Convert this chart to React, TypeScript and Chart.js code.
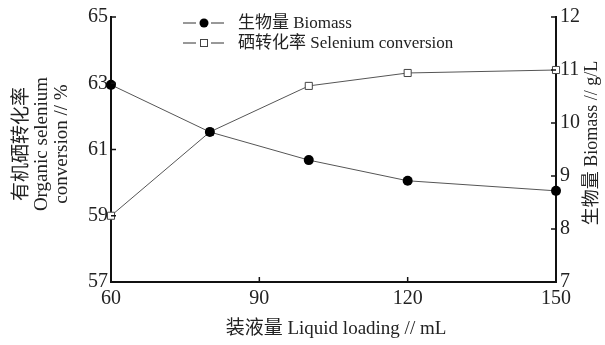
import React, { useEffect, useRef } from "react";
import { Chart, registerables } from "chart.js";

Chart.register(...registerables);

const loading = [60, 80, 100, 120, 150];
const biomass = [10.72, 9.83, 9.3, 8.91, 8.72];
const selenium = [59.0, 61.53, 62.92, 63.31, 63.4];

const xTicks = [60, 90, 120, 150];
const leftTicks = [57, 59, 61, 63, 65];
const rightTicks = [7, 8, 9, 10, 11, 12];

const biomassLabel = "生物量 Biomass";
const seleniumLabel = "硒转化率 Selenium conversion";
const xTitle = "装液量 Liquid loading // mL";
const leftTitle = ["有机硒转化率", "Organic selenium", "conversion // %"];
const rightTitle = "生物量 Biomass // g/L";

const FONT = "'Liberation Serif', 'Noto Sans CJK SC', serif";
const INK = "#111";
const LINE = "#555";

const decorPlugin = {
  id: "decor",
  afterDraw(chart: any) {
    const ctx = chart.ctx as CanvasRenderingContext2D;
    const x = chart.scales.x;
    const yl = chart.scales.y;
    const yr = chart.scales.y1;
    ctx.save();
    ctx.strokeStyle = INK;
    ctx.lineWidth = 1.5;
    // inward ticks
    yl.ticks.forEach((t: any) => {
      const p = yl.getPixelForValue(t.value);
      ctx.beginPath();
      ctx.moveTo(yl.right, p);
      ctx.lineTo(yl.right + 5, p);
      ctx.stroke();
    });
    yr.ticks.forEach((t: any) => {
      const p = yr.getPixelForValue(t.value);
      ctx.beginPath();
      ctx.moveTo(yr.left, p);
      ctx.lineTo(yr.left - 5, p);
      ctx.stroke();
    });
    x.ticks.forEach((t: any) => {
      const p = x.getPixelForValue(t.value);
      ctx.beginPath();
      ctx.moveTo(p, x.top);
      ctx.lineTo(p, x.top - 5);
      ctx.stroke();
    });

    // axis titles
    ctx.fillStyle = "#222";
    ctx.textAlign = "center";
    ctx.textBaseline = "middle";
    ctx.font = `19px ${FONT}`;
    ctx.fillText(xTitle, 336, 329);

    const cx = [22, 42, 62];
    leftTitle.forEach((line, i) => {
      ctx.save();
      ctx.translate(cx[i], 144);
      ctx.rotate(-Math.PI / 2);
      ctx.fillText(line, 0, 0);
      ctx.restore();
    });
    ctx.font = `18px ${FONT}`;
    ctx.save();
    ctx.translate(592, 143);
    ctx.rotate(-Math.PI / 2);
    ctx.fillText(rightTitle, 0, 0);
    ctx.restore();

    // legend
    const items = [
      { label: biomassLabel, y: 23, filled: true },
      { label: seleniumLabel, y: 43, filled: false },
    ];
    ctx.font = `17px ${FONT}`;
    ctx.textAlign = "left";
    items.forEach((it) => {
      ctx.strokeStyle = "#333";
      ctx.lineWidth = 1;
      ctx.beginPath();
      ctx.moveTo(183, it.y);
      ctx.lineTo(196, it.y);
      ctx.moveTo(211, it.y);
      ctx.lineTo(224, it.y);
      ctx.stroke();
      if (it.filled) {
        ctx.fillStyle = "#000";
        ctx.beginPath();
        ctx.arc(204, it.y, 4.5, 0, Math.PI * 2);
        ctx.fill();
      } else {
        ctx.fillStyle = "#fff";
        ctx.strokeStyle = "#444";
        ctx.fillRect(200.5, it.y - 3.5, 7, 7);
        ctx.strokeRect(200.5, it.y - 3.5, 7, 7);
      }
      ctx.fillStyle = "#222";
      ctx.fillText(it.label, 238, it.y + 1);
    });
    ctx.restore();
  },
};

export default function App() {
  const ref = useRef<HTMLCanvasElement>(null);
  useEffect(() => {
    document.body.style.margin = "0";
    const chart = new Chart(ref.current!, {
      type: "line",
      data: {
        datasets: [
          {
            label: biomassLabel,
            data: loading.map((v, i) => ({ x: v, y: biomass[i] })),
            yAxisID: "y1",
            borderColor: LINE,
            borderWidth: 1,
            pointStyle: "circle",
            pointRadius: 5,
            pointBackgroundColor: "#000",
            pointBorderColor: "#000",
            pointBorderWidth: 0,
            clip: false as any,
          },
          {
            label: seleniumLabel,
            data: loading.map((v, i) => ({ x: v, y: selenium[i] })),
            yAxisID: "y",
            borderColor: LINE,
            borderWidth: 1,
            pointStyle: "rect",
            pointRadius: 5,
            pointBackgroundColor: "#fff",
            pointBorderColor: "#444",
            pointBorderWidth: 1,
            clip: false as any,
          },
        ],
      },
      options: {
        animation: false,
        responsive: false,
        layout: { padding: { top: 17, left: 0, right: 0, bottom: 0 } },
        plugins: { legend: { display: false }, tooltip: { enabled: false } },
        scales: {
          x: {
            type: "linear",
            min: 60,
            max: 150,
            afterBuildTicks: (s: any) => {
              s.ticks = xTicks.map((v) => ({ value: v }));
            },
            afterFit: (s: any) => {
              s.height = 63;
            },
            grid: { display: false, drawTicks: false },
            border: { display: true, color: INK, width: 2 },
            ticks: { padding: 5, color: "#222", font: { family: FONT, size: 20 } },
          },
          y: {
            type: "linear",
            position: "left",
            min: 57,
            max: 65,
            afterBuildTicks: (s: any) => {
              s.ticks = leftTicks.map((v) => ({ value: v }));
            },
            afterFit: (s: any) => {
              s.width = 111;
            },
            grid: { display: false, drawTicks: false },
            border: { display: true, color: INK, width: 2 },
            ticks: { padding: 3, color: "#222", font: { family: FONT, size: 20 } },
          },
          y1: {
            type: "linear",
            position: "right",
            min: 7,
            max: 12,
            afterBuildTicks: (s: any) => {
              s.ticks = rightTicks.map((v) => ({ value: v }));
            },
            afterFit: (s: any) => {
              s.width = 49;
            },
            grid: { display: false, drawTicks: false },
            border: { display: true, color: INK, width: 2 },
            ticks: { padding: 4, color: "#222", font: { family: FONT, size: 20 } },
          },
        },
      },
      plugins: [decorPlugin],
    } as any);
    return () => chart.destroy();
  }, []);
  return (
    <div style={{ position: "absolute", left: 0, top: 0, width: 605, height: 345, background: "#fff" }}>
      <canvas ref={ref} width={605} height={345} style={{ width: 605, height: 345 }} />
    </div>
  );
}
